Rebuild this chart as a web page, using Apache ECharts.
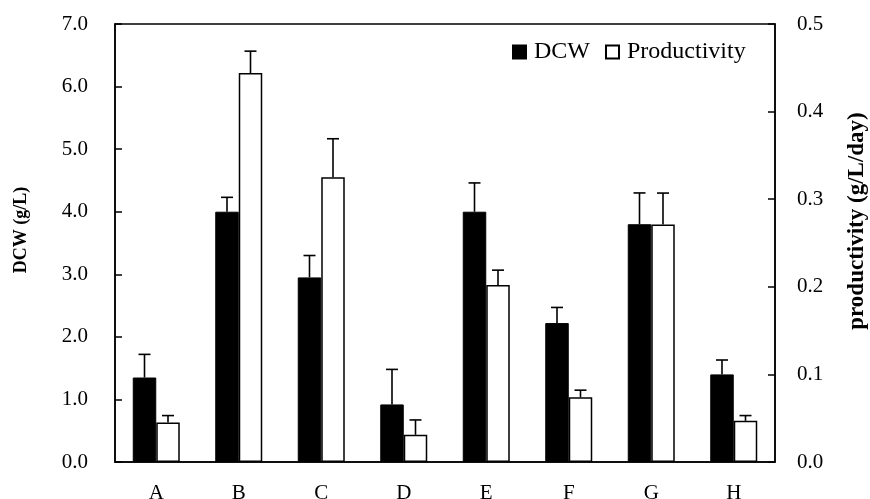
<!DOCTYPE html>
<html>
<head>
<meta charset="utf-8">
<script src="https://cdn.jsdelivr.net/npm/echarts@6/dist/echarts.min.js"></script>
<style>
html,body{margin:0;padding:0;background:#fff;}
#chart{width:870px;height:499px;}
</style>
</head>
<body>
<div id="chart"></div>
<script>
var categories = ['A','B','C','D','E','F','G','H'];
var dcw = [1.35, 4.00, 2.95, 0.92, 4.00, 2.22, 3.80, 1.40];
var dcwErr = [0.37, 0.23, 0.35, 0.56, 0.46, 0.25, 0.50, 0.23];
var productivity = [0.045, 0.444, 0.325, 0.031, 0.202, 0.074, 0.271, 0.047];
var productivityErr = [0.008, 0.025, 0.044, 0.017, 0.017, 0.008, 0.036, 0.006];
var leftTicks = [0, 1, 2, 3, 4, 5, 6, 7];
var rightTicks = [0, 0.1, 0.2, 0.3, 0.4, 0.5];

var FONT = 'Liberation Serif';
var BAR_W = 23.5;
var CAP_W = 12;

function errData(vals, errs) {
  return vals.map(function (v, i) { return [i, v, errs[i]]; });
}
function errRender(offset) {
  return function (params, api) {
    var c = api.value(0), v = api.value(1), e = api.value(2);
    var p0 = api.coord([c, v]);
    var p1 = api.coord([c, v + e]);
    var x = p0[0] + offset;
    var st = { stroke: '#000', lineWidth: 1.6 };
    return {
      type: 'group',
      children: [
        { type: 'line', shape: { x1: x, y1: p0[1], x2: x, y2: p1[1] }, style: st },
        { type: 'line', shape: { x1: x - CAP_W / 2, y1: p1[1], x2: x + CAP_W / 2, y2: p1[1] }, style: st }
      ]
    };
  };
}

var chart = echarts.init(document.getElementById('chart'));
chart.setOption({
  animation: false,
  backgroundColor: '#fff',
  textStyle: { fontFamily: FONT, color: '#000' },
  grid: { left: 115, right: 95, top: 24, bottom: 37, show: true, borderColor: '#000', borderWidth: 1.5, outerBoundsMode: 'none', containLabel: false },
  legend: {
    data: ['DCW', 'Productivity'],
    left: 512, top: 40, padding: 0,
    itemWidth: 13, itemHeight: 13, itemGap: 15,
    icon: 'rect',
    textStyle: { fontFamily: FONT, fontSize: 24, color: '#000', padding: [0, 0, 0, 3] }
  },
  xAxis: {
    type: 'category',
    data: categories,
    axisLine: { lineStyle: { color: '#000', width: 1.5 } },
    axisTick: { show: false },
    axisLabel: { fontFamily: FONT, fontSize: 21, color: '#000', margin: 21 }
  },
  yAxis: [{
    type: 'value', min: leftTicks[0], max: leftTicks[leftTicks.length - 1], interval: 1,
    name: 'DCW (g/L)', nameLocation: 'middle', nameGap: 85,
    nameTextStyle: { fontFamily: FONT, fontSize: 18, fontWeight: 'bold', color: '#000', padding: [0, 0, 0, 26] },
    axisLine: { show: true, lineStyle: { color: '#000', width: 1.5 } },
    axisTick: { show: true, inside: true, length: 7, lineStyle: { color: '#000', width: 1.5 } },
    splitLine: { show: false },
    axisLabel: { fontFamily: FONT, fontSize: 21, color: '#000', margin: 27, formatter: function (v) { return v.toFixed(1); } }
  }, {
    type: 'value', min: rightTicks[0], max: rightTicks[rightTicks.length - 1], interval: 0.1,
    position: 'right',
    name: 'productivity (g/L/day)', nameLocation: 'middle', nameGap: 71,
    nameTextStyle: { fontFamily: FONT, fontSize: 23, fontWeight: 'bold', color: '#000', padding: [0, 0, 0, 44] },
    axisLine: { show: true, lineStyle: { color: '#000', width: 1.5 } },
    axisTick: { show: true, inside: true, length: 7, lineStyle: { color: '#000', width: 1.5 } },
    splitLine: { show: false },
    axisLabel: { fontFamily: FONT, fontSize: 21, color: '#000', margin: 22, formatter: function (v) { return v.toFixed(1); } }
  }],
  series: [{
    name: 'DCW', type: 'bar', yAxisIndex: 0, data: dcw,
    barWidth: BAR_W, barGap: '0%',
    itemStyle: { color: '#000', borderColor: '#000', borderWidth: 1 }
  }, {
    name: 'Productivity', type: 'bar', yAxisIndex: 1, data: productivity,
    barWidth: BAR_W, barGap: '0%',
    itemStyle: { color: '#fff', borderColor: '#000', borderWidth: 1.5 }
  }, {
    name: 'DCW err', type: 'custom', yAxisIndex: 0, z: 5,
    data: errData(dcw, dcwErr), encode: { x: 0, y: 1 },
    renderItem: errRender(-BAR_W / 2)
  }, {
    name: 'Productivity err', type: 'custom', yAxisIndex: 1, z: 5,
    data: errData(productivity, productivityErr), encode: { x: 0, y: 1 },
    renderItem: errRender(BAR_W / 2)
  }]
});
</script>
</body>
</html>
